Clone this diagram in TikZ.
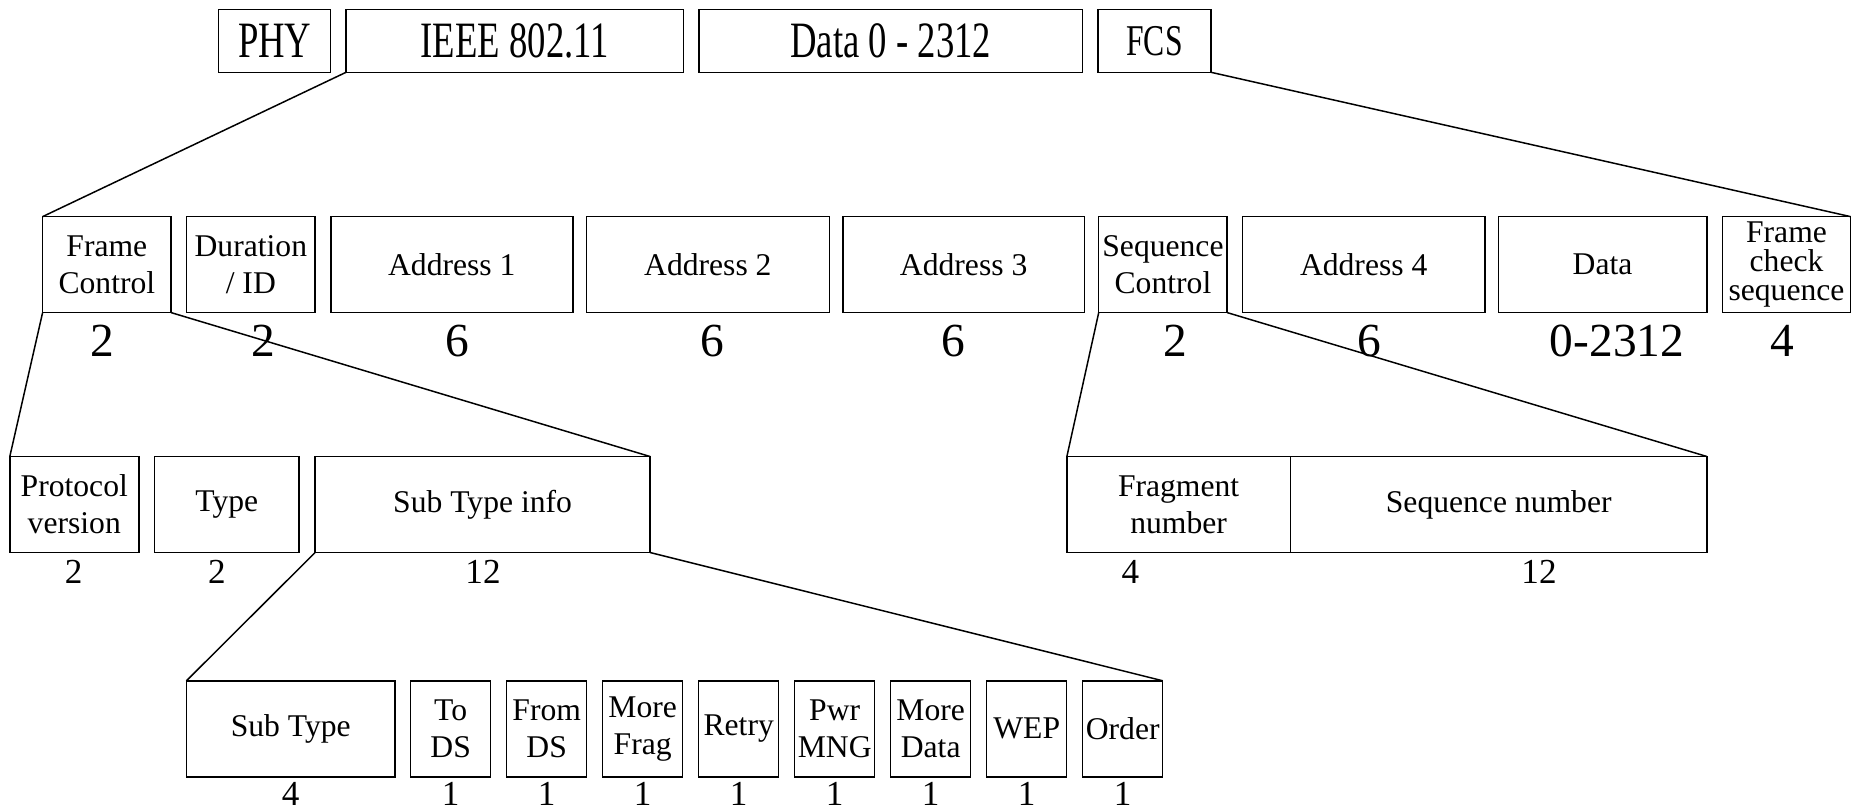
\documentclass[tikz,border=0pt]{standalone}
\usepackage{fontspec}
\setmainfont{Liberation Serif}
\newcommand{\tall}[1]{\scalebox{0.72}[1]{#1}}
\tikzset{
  fld/.style={draw, line width=0.85pt, inner sep=0pt, outer sep=0pt, align=center,
    minimum height=1.92cm, font=\fontsize{18}{21}\selectfont},
  hdr/.style={fld, minimum height=1.26cm, font=\fontsize{29}{33}\selectfont},
  len/.style={anchor=base, inner sep=0pt, font=\fontsize{27}{30}\selectfont},
  bits/.style={anchor=base, inner sep=0pt, font=\fontsize{20}{22}\selectfont},
  link/.style={line width=0.85pt}
}

\begin{document}
\begin{tikzpicture}[x=0.02cm, y=-0.02cm]
     \useasboundingbox (0,0) rectangle (1862,809);

     % frame
     \node [hdr, minimum width=2.24cm] (phy) at (274.7,40.8) {\tall{PHY}};
     \node [hdr, minimum width=6.75cm] (mac) at (514.75,40.8) {\tall{IEEE 802.11}};
     \node [hdr, minimum width=7.67cm] (body) at (890.75,40.8) {\tall{Data 0 - 2312}};
     \node [hdr, minimum width=2.26cm, font=\fontsize{25}{28}\selectfont] (fcs) at (1154.5,40.8) {\tall{FCS}};

     % MAC header
     \node [fld, minimum width=2.57cm] (fc) at (106.85,264.6) {Frame\\Control};
     \node [fld, minimum width=2.57cm] (dur) at (250.85,264.6) {Duration\\/ ID};
     \node [fld, minimum width=4.84cm] (adra) at (451.8,264.6) {Address 1};
     \node [fld, minimum width=4.86cm] (adrb) at (707.85,264.6) {Address 2};
     \node [fld, minimum width=4.83cm] (adrc) at (963.65,264.6) {Address 3};
     \node [fld, minimum width=2.57cm] (sc) at (1162.95,264.6) {Sequence\\Control};
     \node [fld, minimum width=4.85cm] (adrd) at (1363.7,264.6) {Address 4};
     \node [fld, minimum width=4.17cm] (dat) at (1602.5,264.6) {Data};
     \node [fld, minimum width=2.56cm, font=\fontsize{18}{16.5}\selectfont] (fcsq) at (1786.5,264.6) {Frame\\check\\sequence};

     \node [len] (lfc) at (102,356) {2};
     \node [len] (ldur) at (263.6,356) {2};
     \node [len] (ladra) at (457,356) {6};
     \node [len] (ladrb) at (712.5,356) {6};
     \node [len] (ladrc) at (953.6,356) {6};
     \node [len] (lsc) at (1175.6,356) {2};
     \node [len] (ladrd) at (1369,356) {6};
     \node [len] (ldat) at (1617,356) {0-2312};
     \node [len] (lfcsq) at (1782,356) {4};

     % frame control and sequence control
     \node [fld, minimum width=2.58cm] (pv) at (74.3,504.5) {Protocol\\version};
     \node [fld, minimum width=2.89cm] (typ) at (226.75,504.5) {Type};
     \node [fld, minimum width=6.70cm] (sti) at (482.6,504.5) {Sub Type info};
     \node [fld, minimum width=4.47cm] (frag) at (1178.6,504.5) {Fragment\\number};
     \node [fld, minimum width=8.33cm] (seqn) at (1498.7,504.5) {Sequence number};

     \node [bits] (lpv) at (73.6,583) {2};
     \node [bits] (ltyp) at (217,583) {2};
     \node [bits] (lsti) at (483,583) {12};
     \node [bits] (lfrag) at (1130.5,583) {4};
     \node [bits] (lseqn) at (1539,583) {12};

     % flags
     \node [fld, minimum width=4.17cm] (st) at (290.7,728.75) {Sub Type};
     \node [fld, minimum width=1.6cm] (tods) at (450.7,728.75) {To\\DS};
     \node [fld, minimum width=1.6cm] (frds) at (546.7,728.75) {From\\DS};
     \node [fld, minimum width=1.6cm] (mfrag) at (642.7,728.75) {More\\Frag};
     \node [fld, minimum width=1.6cm] (retry) at (738.7,728.75) {Retry};
     \node [fld, minimum width=1.6cm] (pwr) at (834.7,728.75) {Pwr\\MNG};
     \node [fld, minimum width=1.6cm] (mdat) at (930.7,728.75) {More\\Data};
     \node [fld, minimum width=1.6cm] (wep) at (1026.7,728.75) {WEP};
     \node [fld, minimum width=1.6cm] (ord) at (1122.7,728.75) {Order};

     \node [bits] (lst) at (290.7,805) {4};
     \node [bits] (ltods) at (450.7,805) {1};
     \node [bits] (lfrds) at (546.7,805) {1};
     \node [bits] (lmfrag) at (642.7,805) {1};
     \node [bits] (lretry) at (738.7,805) {1};
     \node [bits] (lpwr) at (834.7,805) {1};
     \node [bits] (lmdat) at (930.7,805) {1};
     \node [bits] (lwep) at (1026.7,805) {1};
     \node [bits] (lord) at (1122.7,805) {1};

     % expansion lines
     \draw [link] (mac.south west) -- (fc.north west);
     \draw [link] (fcs.south east) -- (fcsq.north east);
     \draw [link] (fc.south west) -- (pv.north west);
     \draw [link] (fc.south east) -- (sti.north east);
     \draw [link] (sc.south west) -- (frag.north west);
     \draw [link] (sc.south east) -- (seqn.north east);
     \draw [link] (sti.south west) -- (st.north west);
     \draw [link] (sti.south east) -- (ord.north east);
\end{tikzpicture}
\end{document}
